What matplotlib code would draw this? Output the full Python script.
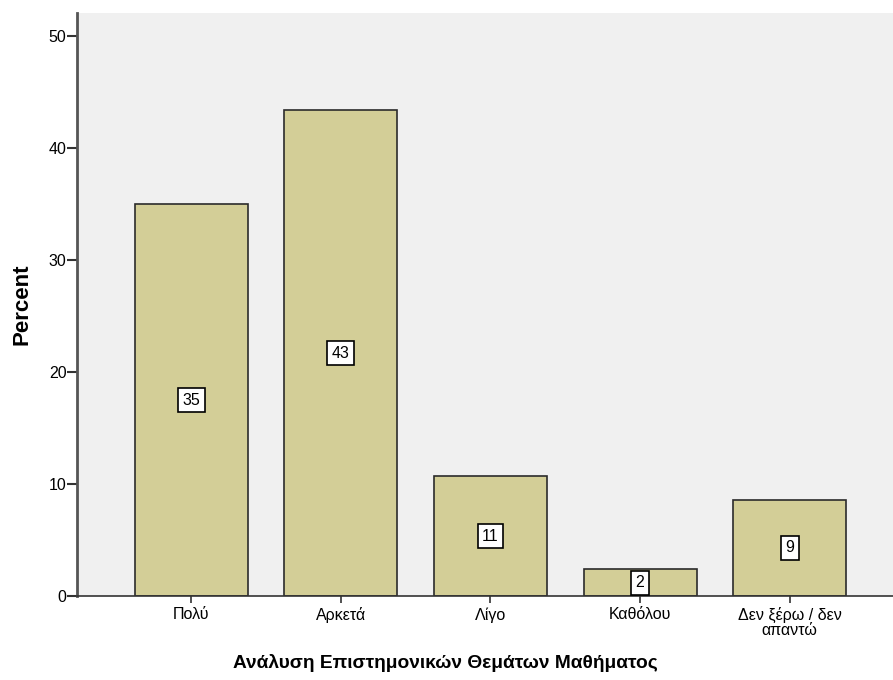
import matplotlib.pyplot as plt

categories = ['Πολύ', 'Αρκετά', 'Λίγο', 'Καθόλου', 'Δεν ξέρω / δεν\nαπαντώ']
percent = [35.0, 43.4, 10.7, 2.4, 8.6]
labels = ['35', '43', '11', '2', '9']

plt.rcParams['font.family'] = ['Liberation Sans', 'DejaVu Sans']

fig = plt.figure(figsize=(8.93, 6.80), dpi=100)
ax = fig.add_axes([0.0862, 0.1235, 0.9138, 0.8575])
ax.set_facecolor('#F0F0F0')

x = range(len(categories))
ax.bar(x, percent, width=0.755, color='#D3CE97', edgecolor='#2b2b2b', linewidth=1.2, zorder=2)

for i, v in enumerate(percent):
    ax.text(i, v / 2, labels[i], ha='center', va='center', fontsize=11.5, zorder=3,
            bbox=dict(boxstyle='square,pad=0.28', facecolor='white', edgecolor='black', linewidth=1.2))

ax.set_xlim(-0.763, 4.69)
ax.set_ylim(0, 52.1)
ax.set_yticks([0, 10, 20, 30, 40, 50])
ax.set_xticks(list(x))
ax.set_xticklabels(categories, fontsize=11.5, linespacing=1.0)
ax.tick_params(axis='y', labelsize=11.5, length=7, width=1.5, color='#333333', pad=0.5)
ax.tick_params(axis='x', length=5, width=1.2, color='#333333', pad=3)

for s in ['top', 'right']:
    ax.spines[s].set_visible(False)
ax.spines['left'].set_color('#555555')
ax.spines['left'].set_linewidth(2)
ax.spines['bottom'].set_color('#333333')
ax.spines['bottom'].set_linewidth(1.2)

ax.set_ylabel('Percent', fontsize=16, fontweight='bold')
ax.yaxis.set_label_coords(-0.055, 0.5)
ax.set_xlabel('Ανάλυση Επιστημονικών Θεμάτων Μαθήματος', fontsize=13.8, fontweight='bold')
ax.xaxis.set_label_coords(0.451, -0.1)

fig.savefig('out.png', dpi=100)
